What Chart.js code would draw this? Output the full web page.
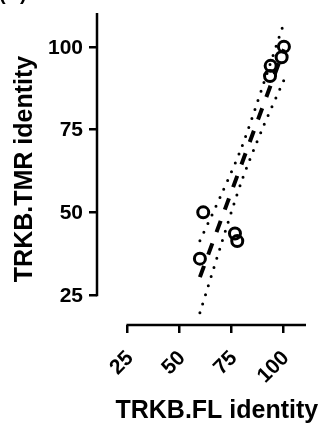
<!DOCTYPE html>
<html>
<head>
<meta charset="utf-8">
<script src="https://cdn.jsdelivr.net/npm/chart.js@4.4.1/dist/chart.umd.min.js"></script>
<style>
  html, body { margin: 0; padding: 0; background: #fff; }
  canvas { display: block; }
</style>
</head>
<body>
<canvas id="identityChart" width="321" height="423"></canvas>
<script>
// axis ticks
const xTicks = [25, 50, 75, 100];
const yTicks = [25, 50, 75, 100];

// observed identities (%)
const flIdentity = [61.4, 59.8, 76.7, 77.8, 100.3, 99.2, 93.9, 93.6];
const tmrIdentity = [50, 36, 43.6, 41.3, 100.1, 96.9, 94.3, 91.2];

// regression line ends
const fitX = [59.8, 100.3];
const fitY = [30.4, 99.3];

// 95% confidence band
const bandX = [59.8, 70, 80, 90, 100.3];
const bandUpper = [41.4, 55.2, 69.8, 88, 107.3];
const bandLower = [19.6, 40.2, 59.6, 75.4, 90];

(function () {
  const FONT = "'Liberation Sans', Arial, Helvetica, sans-serif";

  function toPoints(xs, ys) {
    return xs.map((x, i) => ({ x: x, y: ys[i] }));
  }

  // graphpad style axes: the line starts at the first tick, not at the corner
  const offsetAxes = {
    id: "offsetAxes",
    afterDraw(chart) {
      const { ctx, chartArea, scales } = chart;
      const x = scales.x;
      const y = scales.y;
      ctx.save();
      ctx.strokeStyle = "#000";
      ctx.lineWidth = 2.5;
      ctx.lineCap = "butt";
      ctx.beginPath();
      ctx.moveTo(chartArea.left, y.getPixelForValue(yTicks[0]) + 1.25);
      ctx.lineTo(chartArea.left, chartArea.top);
      ctx.moveTo(x.getPixelForValue(xTicks[0]) - 1.25, chartArea.bottom);
      ctx.lineTo(chartArea.right, chartArea.bottom);
      ctx.stroke();

      // tick labels
      ctx.fillStyle = "#000";
      ctx.font = "bold 21px " + FONT;
      ctx.textAlign = "right";
      ctx.textBaseline = "middle";
      yTicks.forEach((v) => {
        ctx.fillText(String(v), chartArea.left - 14, y.getPixelForValue(v) + 1);
      });
      xTicks.forEach((v) => {
        ctx.save();
        ctx.translate(x.getPixelForValue(v) + 2.5, chartArea.bottom + 30);
        ctx.rotate(-Math.PI / 4);
        ctx.fillText(String(v), 0, 0);
        ctx.restore();
      });

      // axis titles
      ctx.font = "bold 25px " + FONT;
      ctx.textAlign = "center";
      ctx.textBaseline = "alphabetic";
      const xMid = (x.getPixelForValue(xTicks[0]) + chartArea.right) / 2;
      ctx.fillText("TRKB.FL identity", xMid, 418);

      ctx.translate(32, (chartArea.top + chartArea.bottom) / 2);
      ctx.rotate(-Math.PI / 2);
      ctx.fillText("TRKB.TMR identity", 0, 0);
      ctx.restore();

      // panel letter, mostly cut off at the top
      ctx.save();
      ctx.fillStyle = "#000";
      ctx.font = "bold 20px " + FONT;
      ctx.textAlign = "left";
      ctx.textBaseline = "alphabetic";
      ctx.fillText("(B)", -1, 0);
      ctx.restore();
    }
  };

  const tickGrid = {
    display: true,
    drawOnChartArea: false,
    drawTicks: true,
    tickLength: 8,
    color: "#000",
    lineWidth: 2.5
  };

  new Chart(document.getElementById("identityChart"), {
    type: "scatter",
    data: {
      datasets: [
        {
          label: "identity",
          data: toPoints(flIdentity, tmrIdentity),
          pointStyle: "circle",
          pointRadius: 5.5,
          pointBorderWidth: 3,
          pointBorderColor: "#000",
          pointBackgroundColor: "rgba(0,0,0,0)",
          showLine: false,
          order: 0
        },
        {
          label: "fit",
          data: toPoints(fitX, fitY),
          showLine: true,
          borderColor: "#000",
          borderWidth: 4,
          borderDash: [12, 12],
          borderCapStyle: "butt",
          pointRadius: 0,
          order: 1
        },
        {
          label: "upper",
          data: toPoints(bandX, bandUpper),
          showLine: true,
          borderColor: "#000",
          borderWidth: 3,
          borderDash: [0, 9.5],
          borderCapStyle: "round",
          tension: 0.3,
          pointRadius: 0,
          order: 2
        },
        {
          label: "lower",
          data: toPoints(bandX, bandLower),
          showLine: true,
          borderColor: "#000",
          borderWidth: 3,
          borderDash: [0, 9.5],
          borderCapStyle: "round",
          tension: 0.3,
          pointRadius: 0,
          order: 3
        }
      ]
    },
    options: {
      responsive: false,
      animation: false,
      layout: { padding: { top: 13, right: 15, left: 0, bottom: 0 } },
      plugins: {
        legend: { display: false },
        tooltip: { enabled: false }
      },
      scales: {
        x: {
          type: "linear",
          min: 10.2,
          max: 110.94,
          afterFit: (scale) => { scale.height = 98; },
          afterBuildTicks: (scale) => { scale.ticks = xTicks.map((v) => ({ value: v })); },
          border: { display: false },
          grid: tickGrid,
          ticks: { display: false }
        },
        y: {
          type: "linear",
          min: 15.93,
          max: 110.28,
          afterFit: (scale) => { scale.width = 97; },
          afterBuildTicks: (scale) => { scale.ticks = yTicks.map((v) => ({ value: v })); },
          border: { display: false },
          grid: tickGrid,
          ticks: { display: false }
        }
      }
    },
    plugins: [offsetAxes]
  });
})();
</script>
</body>
</html>
